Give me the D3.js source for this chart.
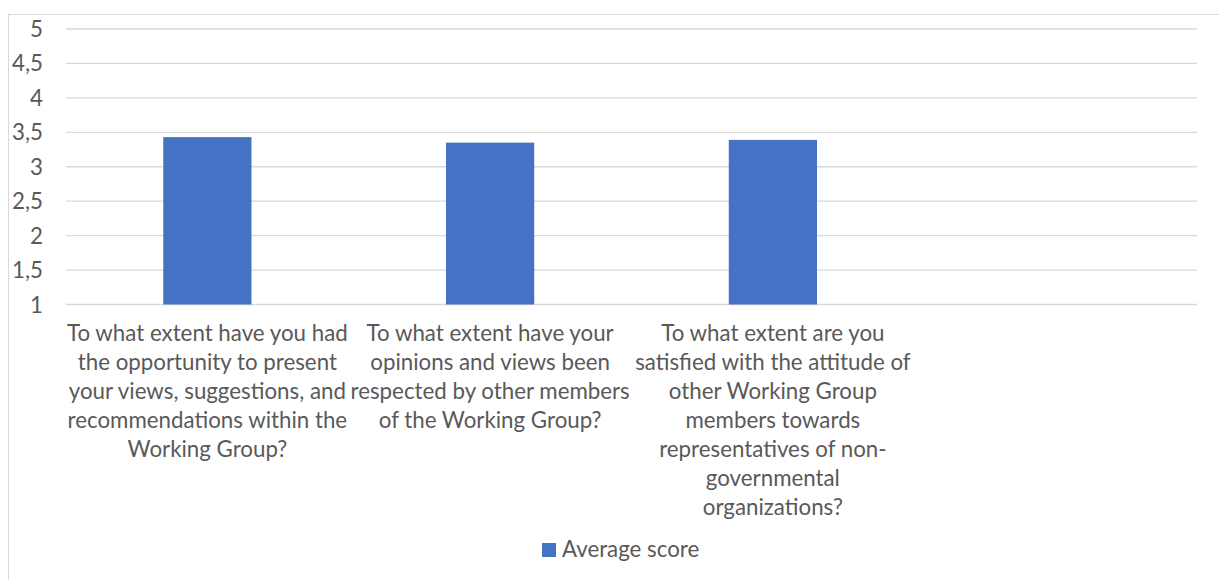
<!DOCTYPE html>
<html>
<head>
<meta charset="utf-8">
<script src="https://cdn.jsdelivr.net/npm/d3@7"></script>
<style>
  html, body { margin: 0; padding: 0; background: #fff; }
  svg text { font-family: Lato, "Open Sans", sans-serif; fill: #595959; }
</style>
</head>
<body>
<svg id="chart" width="1219" height="580"></svg>
<script>
// Survey questions (pre-wrapped into display lines)
const categories = ["q1", "q2", "q3", "q4"];
const categoryLines = [
  ["To what extent have you had", "the opportunity to present", "your views, suggestions, and", "recommendations within the", "Working Group?"],
  ["To what extent have your", "opinions and views been", "respected by other members", "of the Working Group?"],
  ["To what extent are you", "satisfied with the attitude of", "other Working Group", "members towards", "representatives of non-", "governmental", "organizations?"],
  []
];
const values = [3.43, 3.35, 3.39, null];
const seriesName = "Average score";
const yTicks = [1, 1.5, 2, 2.5, 3, 3.5, 4, 4.5, 5];

const svg = d3.select("#chart");
const margin = { left: 66, right: 1197, top: 29, bottom: 304.5 };
const fontSize = 22.3;

// Outer chart frame
svg.append("rect")
  .attr("x", 8.5).attr("y", 14.5)
  .attr("width", 1240).attr("height", 600)
  .attr("fill", "none").attr("stroke", "#d9d9d9").attr("stroke-width", 1);

const x = d3.scaleBand().domain(categories).range([margin.left, margin.right]);
const y = d3.scaleLinear().domain([1, 5]).range([margin.bottom, margin.top]);

// Horizontal gridlines
svg.append("g")
  .selectAll("line")
  .data(yTicks)
  .join("line")
  .attr("x1", margin.left).attr("x2", margin.right)
  .attr("y1", d => y(d)).attr("y2", d => y(d))
  .attr("stroke", "#d9d9d9").attr("stroke-width", 1.3);

// Y axis labels (comma decimal separator)
const fmt = d => String(d).replace(".", ",");
svg.append("g")
  .selectAll("text")
  .data(yTicks)
  .join("text")
  .attr("x", 43)
  .attr("y", d => y(d))
  .attr("dy", "0.36em")
  .attr("text-anchor", "end")
  .attr("font-size", fontSize)
  .text(fmt);

// Bars
const barW = x.step() * 0.312;
svg.append("g")
  .selectAll("rect")
  .data(categories.map((c, i) => ({ c, v: values[i] })).filter(d => d.v != null))
  .join("rect")
  .attr("x", d => x(d.c) + x.bandwidth() / 2 - barW / 2)
  .attr("width", barW)
  .attr("y", d => y(d.v))
  .attr("height", d => y(1) - y(d.v))
  .attr("fill", "#4472c4");

// Category labels
const lineH = 29;
const labels = svg.append("g")
  .selectAll("text")
  .data(categories.map((c, i) => ({ c, lines: categoryLines[i] })))
  .join("text")
  .attr("text-anchor", "middle")
  .attr("font-size", fontSize);
labels.selectAll("tspan")
  .data(d => d.lines.map(l => ({ c: d.c, l })))
  .join("tspan")
  .attr("x", d => x(d.c) + x.bandwidth() / 2)
  .attr("y", (d, i) => 341 + i * lineH)
  .text(d => d.l);

// Legend
const legend = svg.append("g");
legend.append("rect")
  .attr("x", 542).attr("y", 543)
  .attr("width", 14).attr("height", 14)
  .attr("fill", "#4472c4");
legend.append("text")
  .attr("x", 562).attr("y", 557)
  .attr("font-size", fontSize)
  .text(seriesName);
</script>
</body>
</html>
